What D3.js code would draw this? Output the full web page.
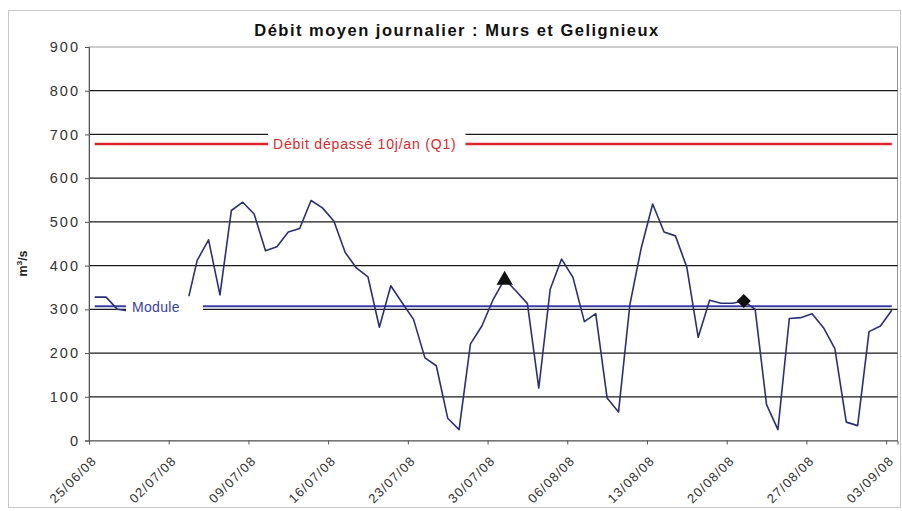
<!DOCTYPE html>
<html>
<head>
<meta charset="utf-8">
<script src="https://cdn.jsdelivr.net/npm/d3@7"></script>
<style>
  body { margin: 0; background: #fff; }
  text { font-family: "Liberation Sans", Arial, sans-serif; }
</style>
</head>
<body>
<script>
// daily mean flow, one value per day from 25/06/08 to 03/09/08
var startDate = new Date(2008, 5, 25);
var flows = [
  328, 328, 300, 296, 300, 305, 300, 298, 300, 412,
  459, 333, 526, 545, 518, 434, 443, 477, 485, 549,
  532, 502, 430, 394, 374, 259, 354, 315, 277, 189,
  171, 51, 25, 221, 262, 323, 369, 342, 313, 120,
  346, 415, 373, 272, 290, 97, 65, 311, 441, 541,
  477, 468, 396, 236, 321, 314, 314, 319, 300, 82,
  25, 279, 281, 290, 258, 210, 42, 34, 249, 262, 298
];
var yTicks = [0, 100, 200, 300, 400, 500, 600, 700, 800, 900];
var q1Value = 678;
var moduleValue = 307;
var triangleDay = 36;   // 31/07/08
var diamondDay = 57;    // 21/08/08
var q1Label = "Débit dépassé 10j/an (Q1)";
var moduleLabel = "Module";

var W = 902, H = 511;
var margin = {left: 89, right: 4, top: 47, bottom: 71};

var svg = d3.select("body").append("svg")
    .attr("width", W)
    .attr("height", H);

var days = flows.map(function(v, i) { return d3.timeDay.offset(startDate, i); });
var mid = function(d) { return d3.timeHour.offset(d, 12); };

var x = d3.scaleTime()
    .domain([startDate, d3.timeDay.offset(startDate, flows.length)])
    .range([margin.left, W - margin.right - 0.5]);
var y = d3.scaleLinear()
    .domain([0, 900])
    .range([H - margin.bottom + 0.5, margin.top]);

// outer frame
svg.append("rect")
    .attr("x", 8.5).attr("y", 10.5)
    .attr("width", W - 10).attr("height", H - 14)
    .attr("fill", "none")
    .attr("stroke", "#c8c8c8");

svg.append("text")
    .attr("x", 457).attr("y", 36)
    .attr("text-anchor", "middle")
    .style("font-size", "16.5px")
    .style("font-weight", "bold")
    .style("letter-spacing", "1.5px")
    .attr("fill", "#111")
    .text("Débit moyen journalier : Murs et Gelignieux");

// plot border
svg.append("rect")
    .attr("x", x.range()[0]).attr("y", y(900))
    .attr("width", x.range()[1] - x.range()[0])
    .attr("height", y(0) - y(900))
    .attr("fill", "none")
    .attr("stroke", "#999");

// gridlines
svg.append("g")
    .selectAll("line")
    .data(yTicks.filter(function(t) { return t > 0 && t < 900; }))
    .enter().append("line")
    .attr("x1", x.range()[0]).attr("x2", x.range()[1])
    .attr("y1", function(d) { return y(d); })
    .attr("y2", function(d) { return y(d); })
    .attr("stroke", "#1a1a1a")
    .attr("stroke-width", 1.3);

// axes
var yAxis = d3.axisLeft(y).tickValues(yTicks).tickSize(4).tickPadding(7);
var gy = svg.append("g")
    .attr("transform", "translate(" + x.range()[0] + ",0)")
    .call(yAxis);
gy.select(".domain").attr("stroke", "#555");
gy.selectAll(".tick line").attr("stroke", "#555");
gy.selectAll("text")
    .style("font-size", "14.5px")
    .style("letter-spacing", "2px")
    .attr("x", -9)
    .attr("fill", "#333");

var xTickValues = d3.range(0, flows.length, 7).map(function(i) { return d3.timeDay.offset(startDate, i); });

var xAxis = d3.axisBottom(x)
    .tickValues(xTickValues)
    .tickFormat(d3.timeFormat("%d/%m/%y"))
    .tickSize(4);
var gx = svg.append("g")
    .attr("transform", "translate(0," + y(0) + ")")
    .call(xAxis);
gx.select(".domain").attr("stroke", "#555");
gx.selectAll(".tick line").attr("stroke", "#555");
gx.selectAll("text")
    .style("font-size", "13px")
    .style("letter-spacing", "1.2px")
    .attr("fill", "#333")
    .attr("text-anchor", "end")
    .attr("x", 0).attr("y", 0).attr("dy", 0)
    .attr("transform", "translate(8,21) rotate(-45)");

svg.append("text")
    .attr("transform", "translate(27," + y(405) + ") rotate(-90)")
    .attr("text-anchor", "middle")
    .style("font-size", "12.5px")
    .style("font-weight", "bold")
    .attr("fill", "#222")
    .html("m<tspan dy='-5' style='font-size:8px'>3</tspan><tspan dy='5'>/s</tspan>");

// reference lines
var constLine = function(v) {
    return d3.line()
        .x(function(d) { return x(mid(d)); })
        .y(function() { return y(v); })(days);
};
svg.append("path")
    .attr("d", constLine(q1Value))
    .attr("fill", "none")
    .attr("stroke", "#e0262b")
    .attr("stroke-width", 2.6);
svg.append("path")
    .attr("d", constLine(moduleValue))
    .attr("fill", "none")
    .attr("stroke", "#3b3fa3")
    .attr("stroke-width", 2.2);

// flow series
var line = d3.line()
    .x(function(d, i) { return x(mid(days[i])); })
    .y(function(d) { return y(d); });
svg.append("path")
    .attr("d", line(flows))
    .attr("fill", "none")
    .attr("stroke", "#2b2f78")
    .attr("stroke-width", 1.6)
    .attr("stroke-linejoin", "round");

// markers
svg.append("path")
    .attr("d", d3.symbol().type(d3.symbolTriangle).size(115)())
    .attr("transform", "translate(" + x(mid(days[triangleDay])) + "," + (y(flows[triangleDay]) + 1) + ")")
    .attr("fill", "#111");
svg.append("path")
    .attr("d", d3.symbol().type(d3.symbolSquare).size(100)())
    .attr("transform", "translate(" + x(mid(days[diamondDay])) + "," + y(flows[diamondDay]) + ") rotate(45)")
    .attr("fill", "#111");

// line labels with white boxes
var q1Text = svg.append("text")
    .attr("x", 273).attr("y", y(q1Value) + 5)
    .style("font-size", "14px")
    .style("letter-spacing", "0.8px")
    .attr("fill", "#e0262b")
    .text(q1Label);
var b = q1Text.node().getBBox();
svg.insert("rect", function() { return q1Text.node(); })
    .attr("x", b.x - 5).attr("y", y(q1Value) - 16)
    .attr("width", b.width + 14).attr("height", 28)
    .attr("fill", "#fff");

var modText = svg.append("text")
    .attr("x", 132).attr("y", y(moduleValue) + 6)
    .style("font-size", "14px")
    .style("letter-spacing", "0.3px")
    .attr("fill", "#3b3fa3")
    .text(moduleLabel);
var mb = modText.node().getBBox();
svg.insert("rect", function() { return modText.node(); })
    .attr("x", mb.x - 6).attr("y", y(moduleValue) - 10)
    .attr("width", 203 - (mb.x - 6)).attr("height", 24)
    .attr("fill", "#fff");
</script>
</body>
</html>
